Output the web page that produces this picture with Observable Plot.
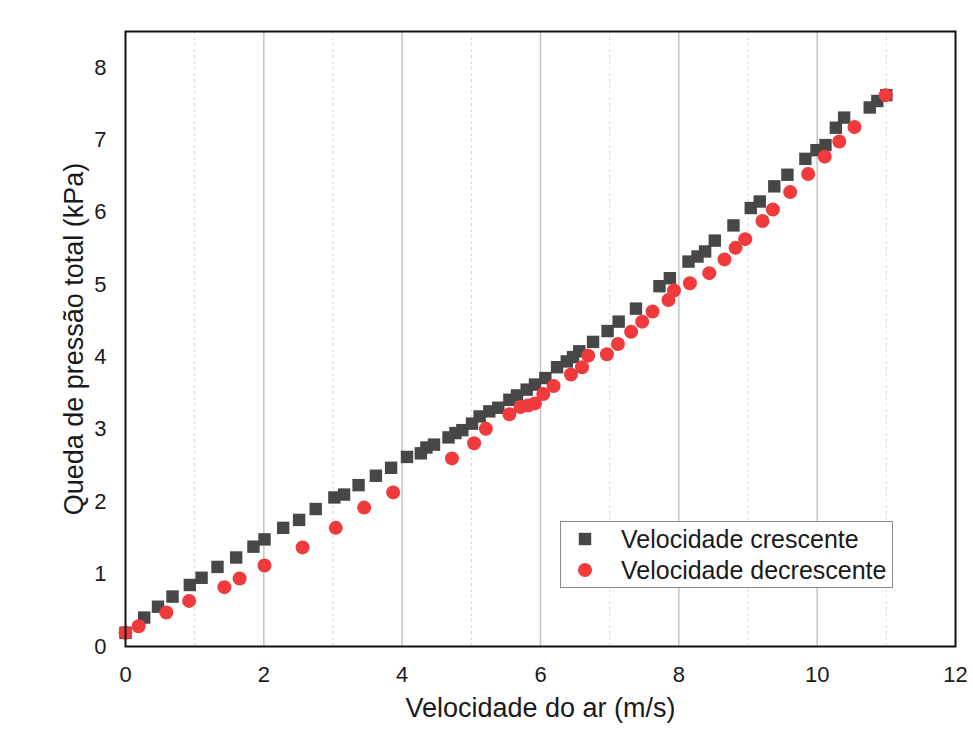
<!DOCTYPE html>
<html>
<head>
<meta charset="utf-8">
<script src="https://cdn.jsdelivr.net/npm/d3@7"></script>
<script src="https://cdn.jsdelivr.net/npm/@observablehq/plot@0.6"></script>
<style>
  html, body { margin: 0; padding: 0; background: #fff; }
  #chart { width: 973px; height: 743px; }
</style>
</head>
<body>
<div id="chart"></div>
<script>
// Velocidade crescente (squares)
const crescenteX = [0.00, 0.27, 0.47, 0.68, 0.93, 1.10, 1.33, 1.60, 1.85, 2.01, 2.28, 2.51, 2.75, 3.02, 3.16, 3.37, 3.62, 3.84, 4.07, 4.27, 4.35, 4.46, 4.67, 4.77, 4.87, 5.01, 5.12, 5.26, 5.39, 5.55, 5.66, 5.80, 5.92, 6.07, 6.24, 6.38, 6.47, 6.56, 6.76, 6.97, 7.13, 7.38, 7.72, 7.87, 8.14, 8.27, 8.38, 8.52, 8.79, 9.04, 9.17, 9.38, 9.57, 9.83, 9.99, 10.12, 10.27, 10.39, 10.76, 10.87, 11.00];
const crescenteY = [0.19, 0.40, 0.55, 0.69, 0.85, 0.95, 1.10, 1.23, 1.38, 1.48, 1.64, 1.75, 1.90, 2.06, 2.10, 2.23, 2.36, 2.47, 2.62, 2.67, 2.75, 2.79, 2.89, 2.95, 2.99, 3.08, 3.18, 3.25, 3.30, 3.41, 3.47, 3.55, 3.62, 3.71, 3.86, 3.94, 4.00, 4.08, 4.21, 4.36, 4.49, 4.67, 4.98, 5.09, 5.32, 5.39, 5.46, 5.61, 5.82, 6.06, 6.15, 6.36, 6.52, 6.74, 6.86, 6.93, 7.17, 7.31, 7.45, 7.54, 7.62];
// Velocidade decrescente (circles)
const decrescenteX = [0.00, 0.19, 0.59, 0.92, 1.43, 1.65, 2.01, 2.56, 3.04, 3.45, 3.87, 4.72, 5.04, 5.21, 5.55, 5.71, 5.82, 5.92, 6.04, 6.19, 6.44, 6.60, 6.69, 6.96, 7.12, 7.31, 7.47, 7.62, 7.85, 7.93, 8.16, 8.44, 8.66, 8.82, 8.96, 9.21, 9.36, 9.61, 9.87, 10.11, 10.32, 10.54, 10.99];
const decrescenteY = [0.19, 0.28, 0.47, 0.63, 0.82, 0.94, 1.12, 1.37, 1.64, 1.92, 2.13, 2.60, 2.81, 3.01, 3.21, 3.31, 3.33, 3.36, 3.49, 3.60, 3.76, 3.86, 4.02, 4.04, 4.18, 4.35, 4.49, 4.63, 4.79, 4.92, 5.02, 5.16, 5.35, 5.51, 5.63, 5.88, 6.04, 6.28, 6.53, 6.77, 6.98, 7.18, 7.62];

const seriesNames = ["Velocidade crescente", "Velocidade decrescente"];
const xTicks = [0, 2, 4, 6, 8, 10, 12];
const yTicks = [0, 1, 2, 3, 4, 5, 6, 7, 8];
const majorGrid = [2, 4, 6, 8, 10];
const minorGrid = [1, 3, 5, 7, 9, 11];
const xLabel = "Velocidade do ar (m/s)";
const yLabel = "Queda de pressão total (kPa)";

const crescente = crescenteX.map((x, i) => ({x, y: crescenteY[i]}));
const decrescente = decrescenteX.map((x, i) => ({x, y: decrescenteY[i]}));

const squareColor = "#474747";
const circleColor = "#f03a3c";
const font = "'Liberation Sans', Arial, sans-serif";

const W = 973, H = 743;
const mL = 125, mR = 18, mT = 31, mB = 97;

const plot = Plot.plot({
  width: W,
  height: H,
  marginLeft: mL,
  marginRight: mR,
  marginTop: mT,
  marginBottom: mB,
  style: {fontFamily: font, fontSize: "22px", color: "#1a1a1a", background: "#fff"},
  x: {domain: [0, 12]},
  y: {domain: [0, 8.5]},
  marks: [
    Plot.ruleX(minorGrid, {stroke: "#d8d8d8", strokeDasharray: "3,3", strokeWidth: 1}),
    Plot.ruleX(majorGrid, {stroke: "#c4c4c4", strokeWidth: 1.5}),
    Plot.axisX(xTicks, {tickSize: 0, tickPadding: 20, label: null, fontSize: 22, tickFormat: d => String(d)}),
    Plot.axisY(yTicks, {tickSize: 0, tickPadding: 19, label: null, fontSize: 22, tickFormat: d => String(d)}),
    Plot.dot(crescente, {x: "x", y: "y", symbol: "square", r: 7, fill: squareColor, stroke: "none"}),
    Plot.dot(decrescente, {x: "x", y: "y", symbol: "circle", r: 7, fill: circleColor, stroke: "none"}),
    Plot.frame({stroke: "#111", strokeWidth: 2}),
    Plot.text([xLabel], {frameAnchor: "bottom", dy: 70, fontSize: 27, fill: "#1a1a1a"}),
    Plot.text([yLabel], {frameAnchor: "left", textAnchor: "middle", dx: -51, rotate: -90, fontSize: 27, fill: "#1a1a1a"})
  ]
});

document.getElementById("chart").appendChild(plot);

// Legend box inside the plot area
const svg = d3.select(plot);
const g = svg.append("g").attr("font-family", font).attr("font-size", 25).attr("text-anchor", "start");
g.append("rect").attr("x", 560.5).attr("y", 521.5).attr("width", 332).attr("height", 66)
  .attr("fill", "#fff").attr("stroke", "#8a8a8a").attr("stroke-width", 1);
const sym = d3.symbol().type(d3.symbolSquare).size(Math.PI * 49);
g.append("path").attr("d", sym()).attr("transform", "translate(585,539)").attr("fill", squareColor);
g.append("circle").attr("cx", 585).attr("cy", 570).attr("r", 7).attr("fill", circleColor);
g.append("text").attr("x", 621).attr("y", 539).attr("dy", "0.35em").attr("fill", "#1a1a1a").text(seriesNames[0]);
g.append("text").attr("x", 621).attr("y", 570).attr("dy", "0.35em").attr("fill", "#1a1a1a").text(seriesNames[1]);
</script>
</body>
</html>
